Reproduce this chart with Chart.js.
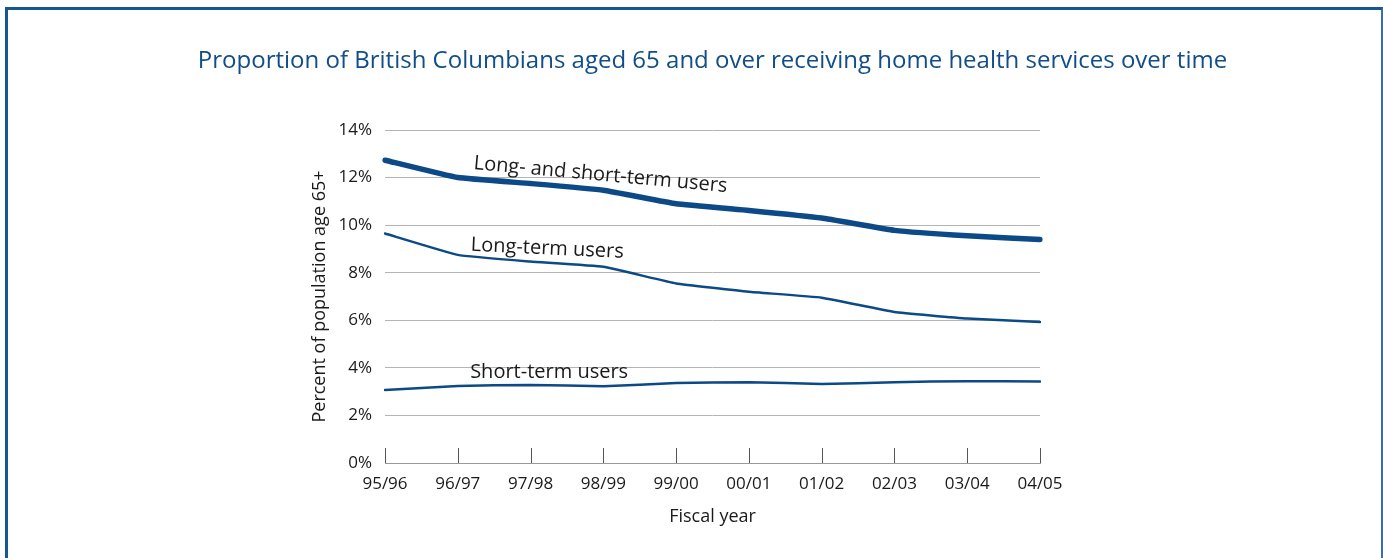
<!DOCTYPE html>
<html>
<head>
<meta charset="utf-8">
<script src="https://cdn.jsdelivr.net/npm/chart.js@4"></script>
<style>
  html, body { margin: 0; padding: 0; background: #fff; }
  #wrap { position: relative; width: 1383px; height: 558px; overflow: hidden; }
  #frame {
    position: absolute; left: 5px; top: 7px; width: 1373px; height: 600px;
    border-left: 3px solid #195591; border-top: 3px solid #195591; border-right: 2px solid #3a6fa3;
  }
  canvas { position: absolute; left: 0; top: 0; }
</style>
</head>
<body>
<div id="wrap">
  <div id="frame"></div>
  <canvas id="myChart" width="1383" height="558"></canvas>
</div>
<script>
// categories
const years = ['95/96', '96/97', '97/98', '98/99', '99/00', '00/01', '01/02', '02/03', '03/04', '04/05'];

// series values (percent)
const bothUsers = [12.73, 12.0, 11.75, 11.47, 10.9, 10.62, 10.3, 9.78, 9.55, 9.4];
const longTermUsers = [9.65, 8.75, 8.47, 8.25, 7.55, 7.2, 6.95, 6.35, 6.07, 5.93];
const shortTermUsers = [3.07, 3.24, 3.28, 3.23, 3.36, 3.4, 3.32, 3.4, 3.44, 3.43];

// y ticks
const yTicks = [0, 2, 4, 6, 8, 10, 12, 14];

// in-chart line labels: text, x position (category index), y value, rotation (deg)
const lineLabels = ['Long- and short-term users', 'Long-term users', 'Short-term users'];
const lineLabelX = [1.22, 1.18, 1.17];
const lineLabelY = [12.6, 9.16, 3.82];
const lineLabelAngle = [5.2, 2.6, 0];

const chartTitle = 'Proportion of British Columbians aged 65 and over receiving home health services over time';

const fontFamily = "'Open Sans', 'Noto Sans', sans-serif";
const lineColor = '#0c4a87';

// title centred over the plot area (the built-in one squeezes it)
const topTitle = {
    id: 'topTitle',
    afterDraw(chart) {
        const ctx = chart.ctx;
        const area = chart.chartArea;
        ctx.save();
        ctx.fillStyle = '#114e89';
        ctx.font = '24px ' + fontFamily;
        ctx.textAlign = 'center';
        ctx.textBaseline = 'middle';
        ctx.fillText(chartTitle, (area.left + area.right) / 2, 61);
        ctx.restore();
    }
};

// little tick marks standing up from the x axis
const tickMarks = {
    id: 'tickMarks',
    beforeDatasetsDraw(chart) {
        const ctx = chart.ctx;
        const xScale = chart.scales.x;
        const bottom = chart.chartArea.bottom;
        ctx.save();
        ctx.strokeStyle = '#555';
        ctx.lineWidth = 1;
        xScale.ticks.forEach(function(t, i) {
            const x = Math.round(xScale.getPixelForTick(i)) + 0.5;
            ctx.beginPath();
            ctx.moveTo(x, bottom - 15);
            ctx.lineTo(x, bottom);
            ctx.stroke();
        });
        ctx.restore();
    }
};

// labels written next to each line
const seriesLabels = {
    id: 'seriesLabels',
    afterDatasetsDraw(chart) {
        const ctx = chart.ctx;
        const xScale = chart.scales.x;
        const yScale = chart.scales.y;
        ctx.save();
        ctx.fillStyle = '#1a1a1a';
        ctx.font = '20px ' + fontFamily;
        ctx.textAlign = 'left';
        ctx.textBaseline = 'middle';
        for (let i = 0; i < lineLabels.length; i++) {
            const x = xScale.getPixelForValue(lineLabelX[i]);
            const y = yScale.getPixelForValue(lineLabelY[i]);
            ctx.save();
            ctx.translate(x, y);
            ctx.rotate(lineLabelAngle[i] * Math.PI / 180);
            ctx.fillText(lineLabels[i], 0, 0);
            ctx.restore();
        }
        ctx.restore();
    }
};

const data = {
    labels: years,
    datasets: [
        { label: 'Long- and short-term users', data: bothUsers, borderColor: lineColor, borderWidth: 5.5 },
        { label: 'Long-term users', data: longTermUsers, borderColor: lineColor, borderWidth: 2.5 },
        { label: 'Short-term users', data: shortTermUsers, borderColor: lineColor, borderWidth: 2.5 }
    ]
};

const config = {
    type: 'line',
    data: data,
    options: {
        responsive: false,
        animation: false,
        devicePixelRatio: 1,
        layout: { padding: { left: 300, right: 343, top: 130, bottom: 30 } },
        elements: {
            point: { radius: 0 },
            line: { tension: 0.1, fill: false, borderCapStyle: 'round' }
        },
        plugins: {
            legend: { display: false },
            tooltip: { enabled: false },
            title: { display: false }
        },
        scales: {
            x: {
                type: 'category',
                offset: false,
                grid: { display: false, drawTicks: false },
                border: { display: true, color: '#999', width: 1 },
                ticks: {
                    color: '#1a1a1a',
                    padding: 11,
                    maxRotation: 0,
                    autoSkip: false,
                    font: { family: fontFamily, size: 17 }
                },
                title: {
                    display: true,
                    text: 'Fiscal year',
                    color: '#1a1a1a',
                    font: { family: fontFamily, size: 18 },
                    padding: { top: 14, bottom: 0 }
                },
                afterFit(scale) { scale.height = 65; }
            },
            y: {
                min: 0,
                max: 14,
                grid: { color: '#b4b4b4', lineWidth: 1, drawTicks: false },
                border: { display: false },
                afterBuildTicks(scale) {
                    scale.ticks = yTicks.map(v => ({ value: v }));
                },
                ticks: {
                    color: '#1a1a1a',
                    padding: 13,
                    font: { family: fontFamily, size: 17 },
                    callback: v => v + '%'
                },
                title: {
                    display: true,
                    text: 'Percent of population age 65+',
                    color: '#1a1a1a',
                    font: { family: fontFamily, size: 18 },
                    padding: { top: 9, bottom: 0 }
                },
                afterFit(scale) { scale.width = 85; }
            }
        }
    },
    plugins: [topTitle, tickMarks, seriesLabels]
};

new Chart(document.getElementById('myChart'), config);
</script>
</body>
</html>
